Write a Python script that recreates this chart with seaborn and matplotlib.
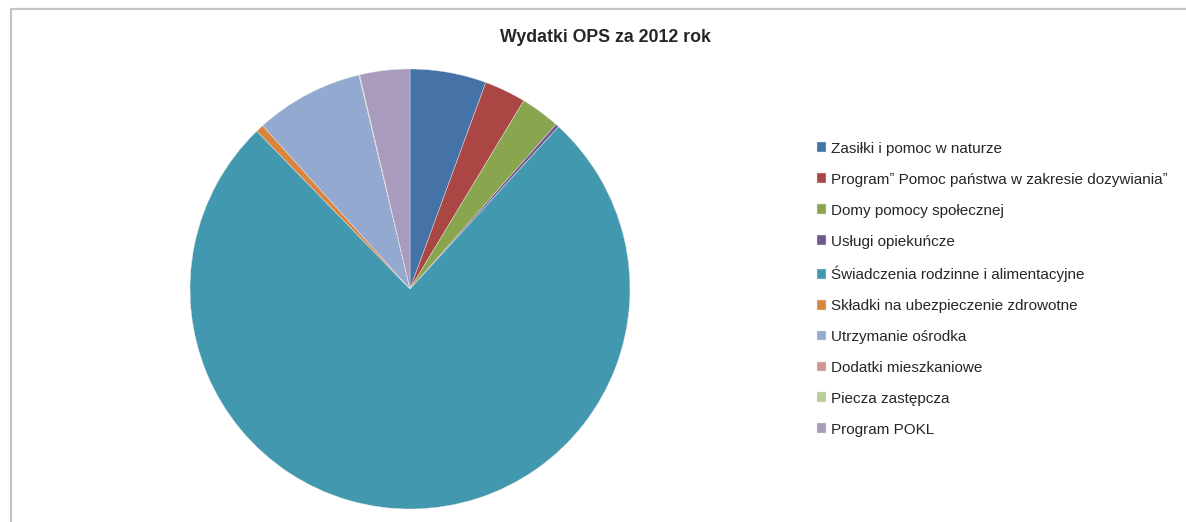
import matplotlib

matplotlib.use("Agg")

import matplotlib.pyplot as plt
import seaborn as sns
from matplotlib.lines import Line2D


TITLE = "Wydatki OPS za 2012 rok"
CATEGORIES = [
    "Zasiłki i pomoc w naturze",
    "Program\u02ee Pomoc państwa w zakresie dozywiania\u02ee",
    "Domy pomocy społecznej",
    "Usługi opiekuńcze",
    "Świadczenia rodzinne i alimentacyjne",
    "Składki na ubezpieczenie zdrowotne",
    "Utrzymanie ośrodka",
    "Dodatki mieszkaniowe",
    "Piecza zastępcza",
    "Program POKL",
]
# udział w wydatkach (%)
SHARES = [5.6, 3.05, 2.9, 0.25, 75.95, 0.58, 7.95, 0.03, 0.03, 3.67]
COLORS = [
    "#4572A7", "#AA4643", "#89A54E", "#71588F", "#4198AF",
    "#DB843D", "#93A9CF", "#D19392", "#B9CD96", "#A99BBD",
]

W, H = 1186, 522


def main():
    sns.set_theme(style="white")
    plt.rcParams["font.family"] = ["Liberation Sans", "DejaVu Sans"]
    palette = sns.color_palette(COLORS)

    fig = plt.figure(figsize=(W / 100, H / 100), dpi=100)
    fig.patch.set_facecolor("white")

    # obramowanie wykresu (lewa i górna krawędź)
    fig.add_artist(Line2D([10.5 / W, 10.5 / W], [0, 1 - 8.5 / H], transform=fig.transFigure,
                          color="#c4c4c4", linewidth=1.6))
    fig.add_artist(Line2D([10.5 / W, 1], [1 - 8.5 / H, 1 - 8.5 / H], transform=fig.transFigure,
                          color="#c4c4c4", linewidth=1.6))

    cx, cy, r = 410, 289, 220
    ax = fig.add_axes([(cx - r) / W, (H - cy - r) / H, 2 * r / W, 2 * r / H])
    wedges, _ = ax.pie(
        SHARES,
        colors=palette,
        startangle=90,
        counterclock=False,
        wedgeprops={"linewidth": 0.3, "edgecolor": "#e6e6e6"},
    )
    ax.set_xlim(-1, 1)
    ax.set_ylim(-1, 1)
    ax.set_aspect("equal")
    ax.axis("off")

    fig.text(605 / W, 1 - 37 / H, TITLE, ha="center", va="center",
             fontsize=12.8, fontweight="bold", color="#262626")

    fig.legend(
        wedges,
        CATEGORIES,
        loc="upper left",
        bbox_to_anchor=(809 / W, 1 - 134 / H),
        frameon=False,
        fontsize=11,
        labelspacing=1.11,
        handlelength=0.62,
        handleheight=0.62,
        handletextpad=0.3,
        borderpad=0,
        labelcolor="#262626",
    )

    fig.savefig("out.png", dpi=100)
    plt.close(fig)


if __name__ == "__main__":
    main()
